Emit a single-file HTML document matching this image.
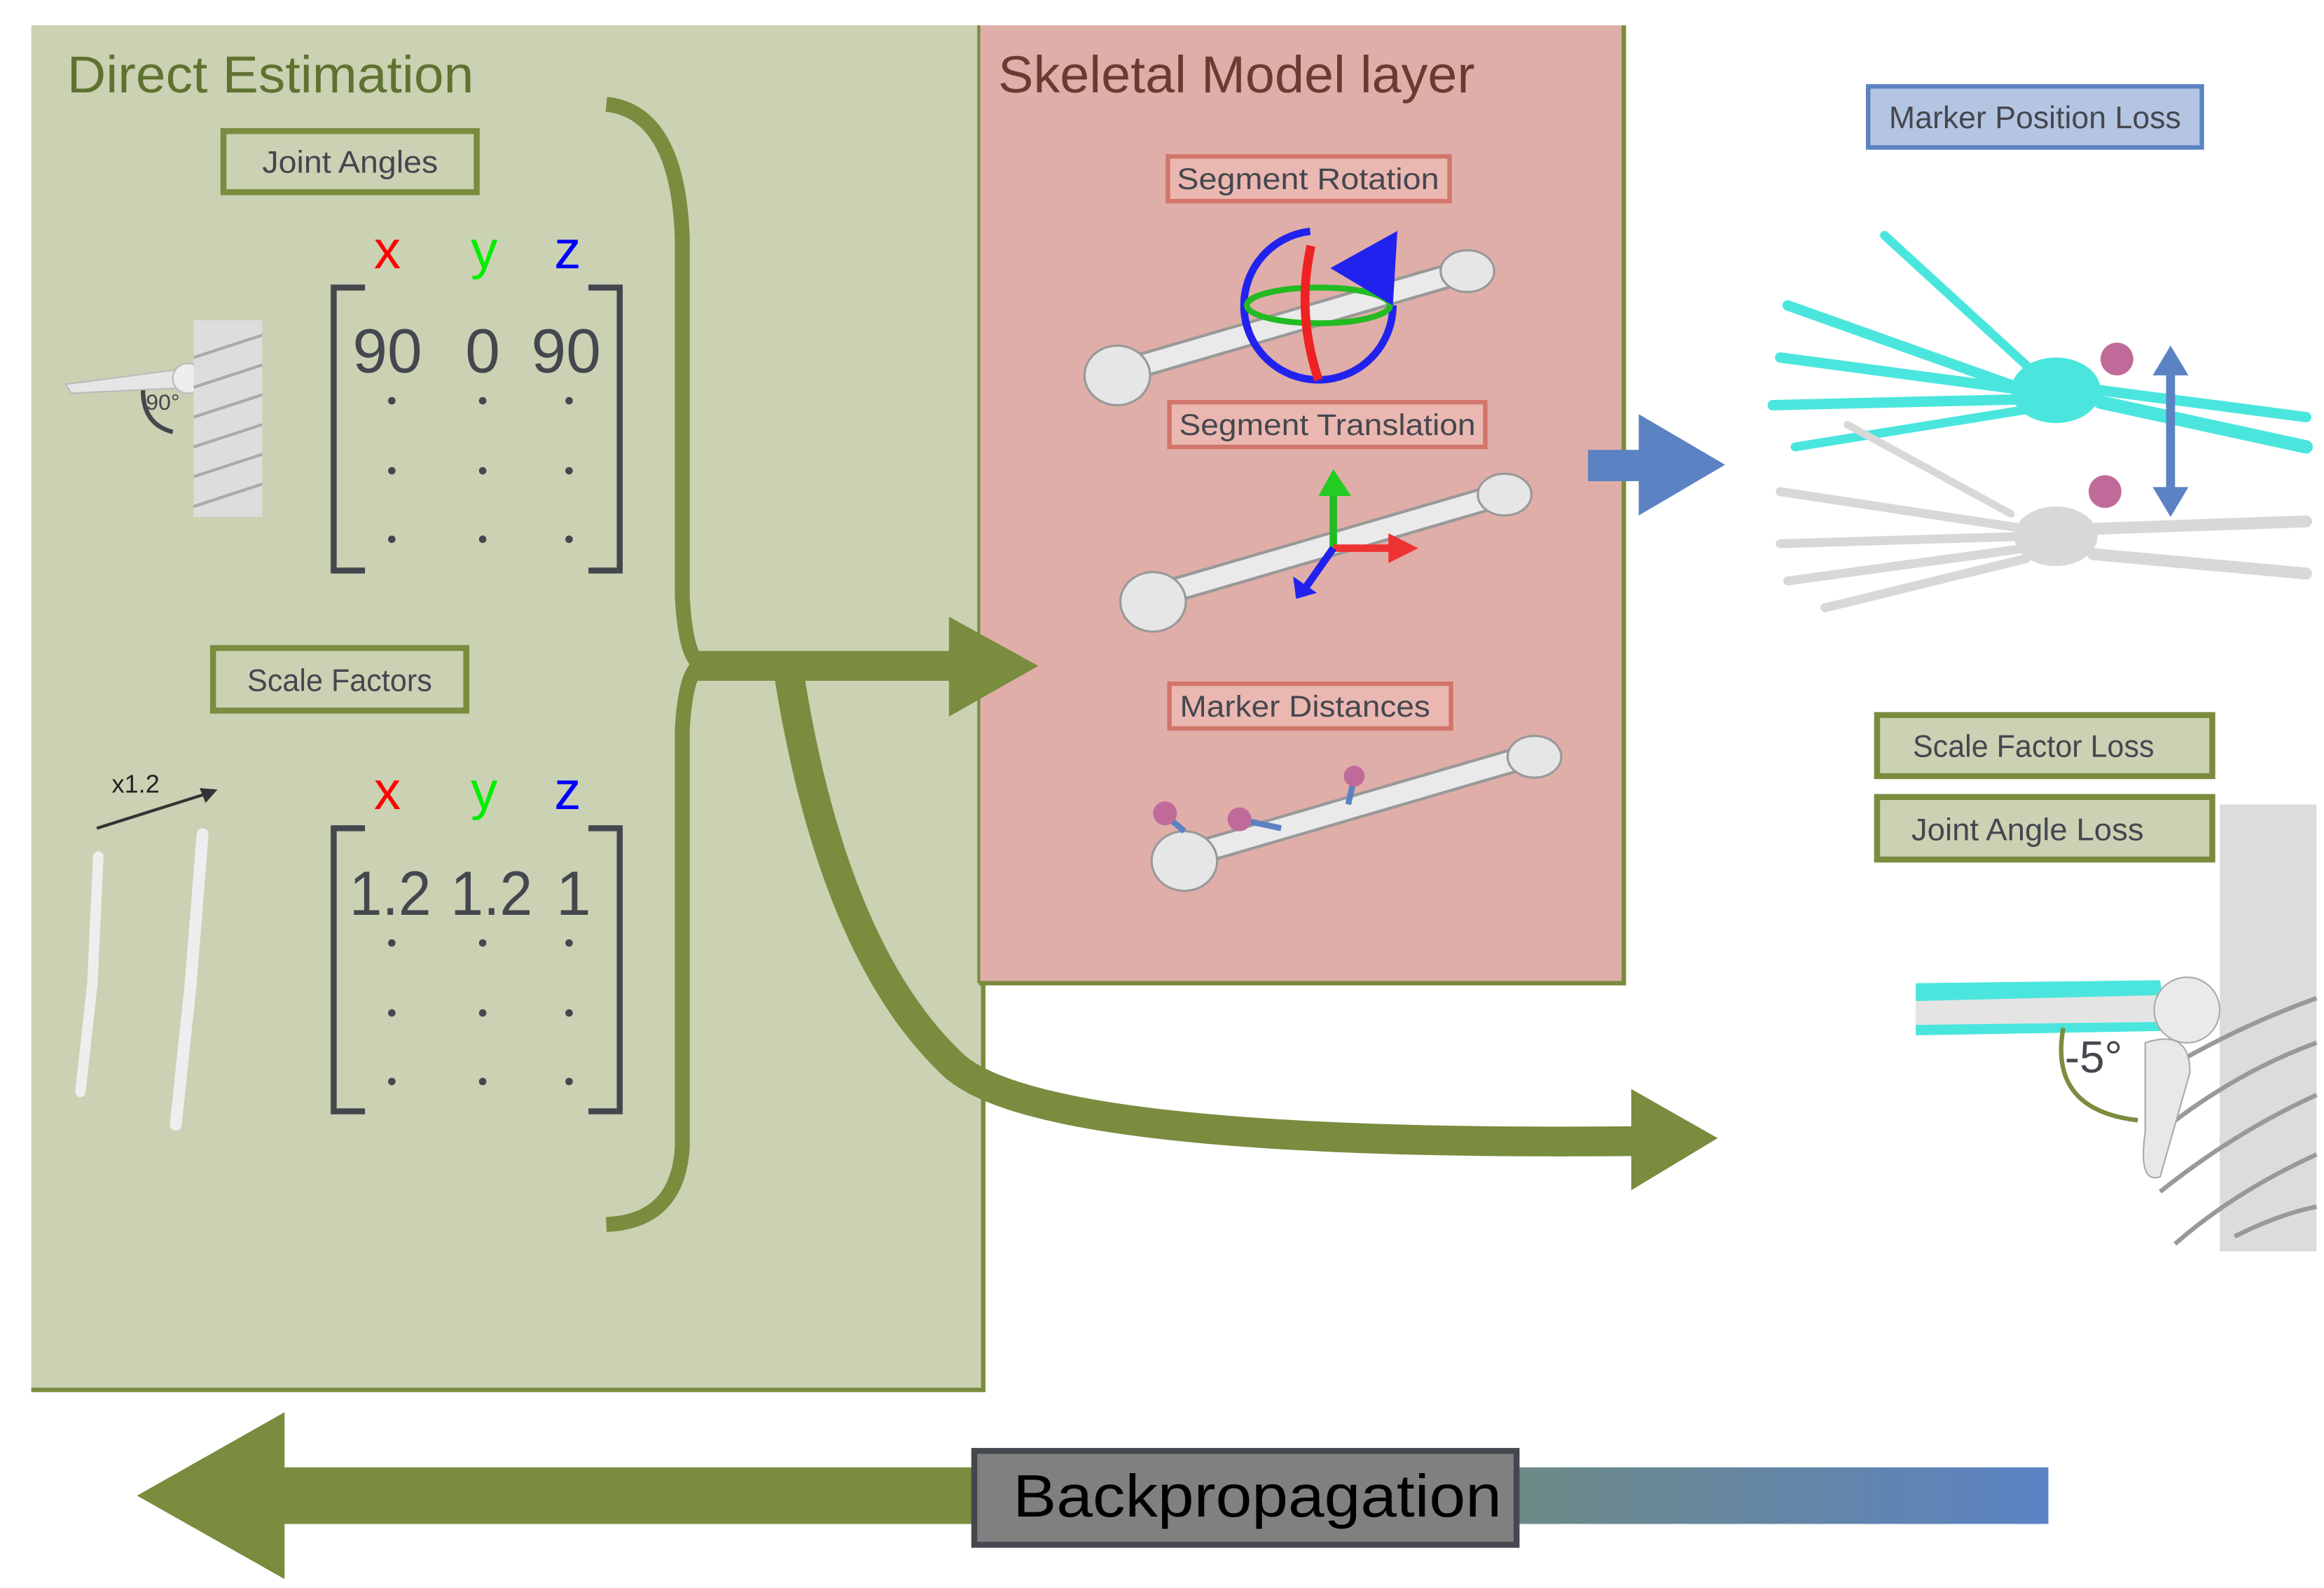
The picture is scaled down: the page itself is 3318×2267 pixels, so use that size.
<!DOCTYPE html>
<html><head><meta charset="utf-8"><style>
html,body{margin:0;padding:0;background:#fff;}
svg{display:block;}
text{font-family:"Liberation Sans",sans-serif;}
</style></head><body>
<svg width="3318" height="2267" viewBox="0 0 1560 1066" preserveAspectRatio="none" xmlns="http://www.w3.org/2000/svg">
<defs>
<linearGradient id="bg" x1="0" x2="1" y1="0" y2="0"><stop offset="0" stop-color="#6d8a86"/><stop offset="1" stop-color="#5b82c4"/></linearGradient>
</defs>
<rect width="1560" height="1066" fill="#fff"/>
<!-- green panel -->
<rect x="21" y="17" width="639" height="916" fill="#cbd1b3"/>
<path d="M660 660 V933 H21" fill="none" stroke="#7a8c3e" stroke-width="3"/>
<!-- pink panel -->
<rect x="657" y="17" width="433" height="643" fill="#e0aea8"/>
<path d="M1090 17 V660 H657" fill="none" stroke="#7a8c3e" stroke-width="3"/>
<line x1="657" y1="17" x2="657" y2="660" stroke="#7a8c3e" stroke-width="2"/>

<text x="45" y="62" font-size="35" fill="#5f7330" textLength="273" lengthAdjust="spacingAndGlyphs">Direct Estimation</text>
<text x="670" y="62" font-size="35" fill="#6b3a33" textLength="320" lengthAdjust="spacingAndGlyphs">Skeletal Model layer</text>

<!-- Joint angles -->
<rect x="150" y="88" width="170" height="41" fill="none" stroke="#7a8c3e" stroke-width="4"/>
<text x="235" y="116" font-size="21" fill="#45474f" text-anchor="middle" textLength="118" lengthAdjust="spacingAndGlyphs">Joint Angles</text>
<text x="260" y="180" font-size="36" fill="#ff0000" text-anchor="middle">x</text>
<text x="325" y="180" font-size="36" fill="#00ee00" text-anchor="middle">y</text>
<text x="381" y="180" font-size="36" fill="#0000ff" text-anchor="middle">z</text>
<g fill="none" stroke="#45474f" stroke-width="4">
<path d="M245 193 H224 V383 H245"/><path d="M395 193 H416 V383 H395"/>
<path d="M245 556 H224 V746 H245"/><path d="M395 556 H416 V746 H395"/>
</g>
<g fill="#45474f" font-size="42" text-anchor="middle">
<text x="260" y="250">90</text><text x="324" y="250">0</text><text x="380" y="250">90</text>
<text x="262" y="614" textLength="55" lengthAdjust="spacingAndGlyphs">1.2</text><text x="330" y="614" textLength="55" lengthAdjust="spacingAndGlyphs">1.2</text><text x="385" y="614">1</text>
</g>
<g fill="#45474f">
<circle cx="263" cy="269" r="2.5"/><circle cx="324" cy="269" r="2.5"/><circle cx="382" cy="269" r="2.5"/>
<circle cx="263" cy="316" r="2.5"/><circle cx="324" cy="316" r="2.5"/><circle cx="382" cy="316" r="2.5"/>
<circle cx="263" cy="362" r="2.5"/><circle cx="324" cy="362" r="2.5"/><circle cx="382" cy="362" r="2.5"/>
<circle cx="263" cy="633" r="2.5"/><circle cx="324" cy="633" r="2.5"/><circle cx="382" cy="633" r="2.5"/>
<circle cx="263" cy="680" r="2.5"/><circle cx="324" cy="680" r="2.5"/><circle cx="382" cy="680" r="2.5"/>
<circle cx="263" cy="726" r="2.5"/><circle cx="324" cy="726" r="2.5"/><circle cx="382" cy="726" r="2.5"/>
</g>
<!-- shoulder small -->
<g>
<path d="M44 258 L120 248 L130 260 L48 264 Z" fill="#e6e6e6" stroke="#bbb"/>
<circle cx="126" cy="254" r="10" fill="#eee" stroke="#bbb"/>
<rect x="130" y="215" width="46" height="132" fill="#ddd"/>
<g stroke="#aaa" stroke-width="2">
<line x1="130" y1="240" x2="176" y2="225"/><line x1="130" y1="260" x2="176" y2="245"/><line x1="130" y1="280" x2="176" y2="265"/><line x1="130" y1="300" x2="176" y2="285"/><line x1="130" y1="320" x2="176" y2="305"/><line x1="130" y1="340" x2="176" y2="325"/>
</g>
<path d="M96 262 Q96 285 116 290" fill="none" stroke="#45474f" stroke-width="3"/>
<text x="98" y="275" font-size="15" fill="#45474f">90°</text>
</g>
<!-- scale factors -->
<rect x="143" y="435" width="170" height="42" fill="none" stroke="#7a8c3e" stroke-width="4"/>
<text x="228" y="464" font-size="21" fill="#45474f" text-anchor="middle" textLength="124" lengthAdjust="spacingAndGlyphs">Scale Factors</text>
<text x="260" y="543" font-size="36" fill="#ff0000" text-anchor="middle">x</text>
<text x="325" y="543" font-size="36" fill="#00ee00" text-anchor="middle">y</text>
<text x="381" y="543" font-size="36" fill="#0000ff" text-anchor="middle">z</text>
<text x="75" y="532" font-size="17" fill="#222">x1.2</text>
<line x1="65" y1="556" x2="138" y2="533" stroke="#333" stroke-width="2"/>
<path d="M146 530 L134 529 L138 539 Z" fill="#333"/>
<g stroke="#eee" stroke-linecap="round" fill="none">
<path d="M66 575 L62 660 L54 733" stroke-width="7"/>
<path d="M136 560 L128 660 L118 755" stroke-width="8"/>
</g>

<!-- brace -->
<path d="M407 70 Q455 75 458 160 L458 400 Q460 440 470 446 Q460 452 458 490 L458 770 Q455 820 407 822" fill="none" stroke="#7a8c3e" stroke-width="10"/>
<!-- straight arrow -->
<rect x="465" y="437" width="175" height="20" fill="#7a8c3e"/>
<path d="M637 414 L697 447 L637 481 Z" fill="#7a8c3e"/>
<!-- curved arrow -->
<path d="M530 455 Q560 640 640 715 Q700 770 1100 766" fill="none" stroke="#7a8c3e" stroke-width="20"/>
<path d="M1095 731 L1153 764 L1095 799 Z" fill="#7a8c3e"/>

<!-- pink labels -->
<g fill="#eab7b1" stroke="#d2756b" stroke-width="3">
<rect x="784" y="105" width="189" height="30"/><rect x="785" y="270" width="212" height="30"/><rect x="785" y="459" width="189" height="30"/>
</g>
<g font-size="20" fill="#45474f" text-anchor="middle">
<text x="878" y="127" textLength="176" lengthAdjust="spacingAndGlyphs">Segment Rotation</text>
<text x="891" y="292" textLength="199" lengthAdjust="spacingAndGlyphs">Segment Translation</text>
<text x="876" y="481" textLength="168" lengthAdjust="spacingAndGlyphs">Marker Distances</text>
</g>
<!-- bones -->
<g stroke-linecap="round" fill="none">
<path d="M750 250 L990 180" stroke="#999" stroke-width="17"/><path d="M750 250 L990 180" stroke="#eaeaea" stroke-width="13"/>
<path d="M775 400 L1015 330" stroke="#999" stroke-width="17"/><path d="M775 400 L1015 330" stroke="#eaeaea" stroke-width="13"/>
<path d="M795 575 L1035 505" stroke="#999" stroke-width="17"/><path d="M795 575 L1035 505" stroke="#eaeaea" stroke-width="13"/>
</g>
<g fill="#e6e6e6" stroke="#999" stroke-width="1.5">
<ellipse cx="750" cy="252" rx="22" ry="20"/><ellipse cx="985" cy="182" rx="18" ry="14"/>
<ellipse cx="774" cy="404" rx="22" ry="20"/><ellipse cx="1010" cy="332" rx="18" ry="14"/>
<ellipse cx="795" cy="578" rx="22" ry="20"/><ellipse cx="1030" cy="508" rx="18" ry="14"/>
</g>
<!-- rotation gizmo -->
<ellipse cx="885" cy="205" rx="50" ry="50" fill="none" stroke="#2222ee" stroke-width="5" transform="rotate(0)" stroke-dasharray="230 90"/>
<ellipse cx="885" cy="205" rx="48" ry="12" fill="none" stroke="#22bb22" stroke-width="4"/>
<path d="M880 165 Q870 210 885 255" fill="none" stroke="#ee2222" stroke-width="6"/>
<path d="M893 180 L938 155 L935 205 Z" fill="#2222ee"/>
<!-- translation gizmo -->
<g stroke-width="5" fill="none">
<line x1="895" y1="368" x2="895" y2="330" stroke="#22bb22"/><line x1="895" y1="368" x2="935" y2="368" stroke="#ee3333"/><line x1="895" y1="368" x2="876" y2="395" stroke="#2222ee"/>
</g>
<path d="M885 333 L895 315 L907 333 Z" fill="#22cc22"/><path d="M932 358 L952 368 L932 378 Z" fill="#ee3333"/><path d="M868 387 L870 402 L884 398 Z" fill="#2222ee"/>
<!-- markers -->
<g stroke="#5b82c2" stroke-width="4"><line x1="782" y1="547" x2="795" y2="558"/><line x1="832" y1="550" x2="860" y2="556"/><line x1="909" y1="522" x2="905" y2="540"/></g>
<g fill="#c06a9a"><circle cx="782" cy="546" r="8"/><circle cx="832" cy="550" r="8"/><circle cx="909" cy="521" r="7"/></g>

<!-- blue arrow -->
<rect x="1066" y="302" width="36" height="21" fill="#5b82c2"/>
<path d="M1100 278 L1158 312 L1100 346 Z" fill="#5b82c2"/>

<!-- right side -->
<rect x="1254" y="58" width="224" height="41" fill="#b4c5e2" stroke="#5b82c2" stroke-width="3"/>
<text x="1366" y="86" font-size="21" fill="#45474f" text-anchor="middle" textLength="196" lengthAdjust="spacingAndGlyphs">Marker Position Loss</text>
<!-- cyan hand -->
<g stroke="#4ae6de" stroke-linecap="round" stroke-width="9" fill="none">
<path d="M1410 270 L1548 300"/><path d="M1410 262 L1548 280" stroke-width="7"/>
<path d="M1360 262 L1200 205" stroke-width="7"/><path d="M1360 262 L1195 240" stroke-width="7"/><path d="M1360 268 L1190 272" stroke-width="7"/><path d="M1360 275 L1205 300" stroke-width="6"/><path d="M1360 245 L1265 158" stroke-width="6"/>
</g>
<ellipse cx="1380" cy="262" rx="30" ry="22" fill="#4ae6de"/>
<!-- grey hand -->
<g stroke="#d8d8d8" stroke-linecap="round" stroke-width="8" fill="none">
<path d="M1405 355 L1548 350"/><path d="M1405 372 L1548 385"/>
<path d="M1360 355 L1195 330" stroke-width="6"/><path d="M1360 360 L1195 365" stroke-width="6"/><path d="M1360 368 L1200 390" stroke-width="6"/><path d="M1360 375 L1225 408" stroke-width="6"/><path d="M1350 345 L1240 285" stroke-width="5"/>
</g>
<ellipse cx="1380" cy="360" rx="28" ry="20" fill="#d8d8d8"/>
<g fill="#c06a9a"><circle cx="1421" cy="241" r="11"/><circle cx="1413" cy="330" r="11"/></g>
<line x1="1457" y1="248" x2="1457" y2="330" stroke="#5b82c2" stroke-width="6"/>
<path d="M1445 252 L1457 232 L1469 252 Z" fill="#5b82c2"/><path d="M1445 327 L1457 347 L1469 327 Z" fill="#5b82c2"/>

<rect x="1260" y="480" width="225" height="41" fill="#cbd1b3" stroke="#7a8c3e" stroke-width="4"/>
<text x="1365" y="508" font-size="21" fill="#45474f" text-anchor="middle" textLength="162" lengthAdjust="spacingAndGlyphs">Scale Factor Loss</text>
<rect x="1260" y="535" width="225" height="42" fill="#cbd1b3" stroke="#7a8c3e" stroke-width="4"/>
<text x="1361" y="564" font-size="21" fill="#45474f" text-anchor="middle" textLength="156" lengthAdjust="spacingAndGlyphs">Joint Angle Loss</text>

<!-- shoulder right -->
<rect x="1490" y="540" width="65" height="300" fill="#dcdcdc"/>
<g stroke="#999" stroke-width="3" fill="none">
<path d="M1450 720 Q1500 690 1555 670"/><path d="M1450 760 Q1500 720 1555 700"/><path d="M1450 800 Q1500 760 1555 735"/><path d="M1460 835 Q1500 800 1555 775"/><path d="M1500 830 Q1530 815 1555 810"/>
</g>
<path d="M1440 700 Q1470 690 1470 720 L1450 790 Q1435 795 1440 760 Z" fill="#e8e8e8" stroke="#aaa"/>
<path d="M1286 660 L1450 658 L1455 692 L1286 695 Z" fill="#4ae6de"/>
<path d="M1286 672 L1450 668 L1452 686 L1286 688 Z" fill="#e4e4e4"/>
<circle cx="1468" cy="678" r="22" fill="#eaeaea" stroke="#aaa"/>
<path d="M1385 690 Q1375 745 1435 752" fill="none" stroke="#7a8c3e" stroke-width="3"/>
<text x="1386" y="720" font-size="30" fill="#45474f">-5°</text>

<!-- bottom -->
<rect x="188" y="985" width="470" height="38" fill="#7a8c3e"/>
<path d="M191 948 L92 1004 L191 1060 Z" fill="#7a8c3e"/>
<rect x="1016" y="985" width="359" height="38" fill="url(#bg)"/>
<rect x="654" y="974" width="364" height="63" fill="#808080" stroke="#45474f" stroke-width="4"/>
<text x="844" y="1018" font-size="40" fill="#000" text-anchor="middle" textLength="328" lengthAdjust="spacingAndGlyphs">Backpropagation</text>
</svg>
</body></html>
